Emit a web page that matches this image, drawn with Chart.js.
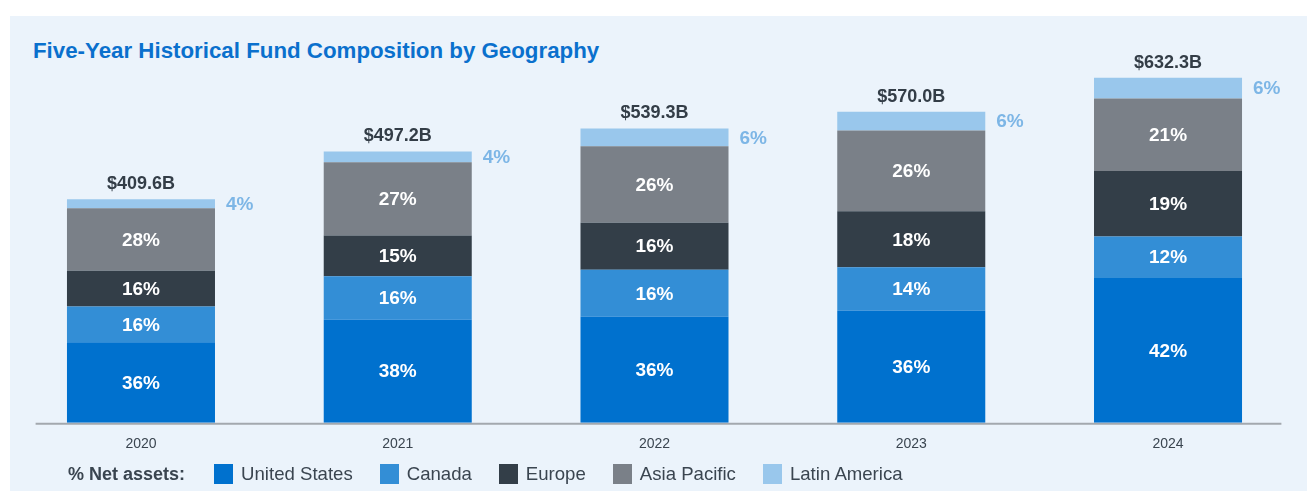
<!DOCTYPE html>
<html lang="en">
<head>
    <meta charset="UTF-8">
    <title>Five-Year Historical Fund Composition by Geography</title>
    <style>
        body { margin: 0; background: #ffffff; font-family: "Liberation Sans", Arial, sans-serif; }
        #panel { position: absolute; left: 10px; top: 16px; width: 1297px; height: 475px; background: #ebf3fb; }
        #title { position: absolute; left: 23px; top: 22px; margin: 0; font-size: 22.3px; font-weight: bold; color: #0a70cd; }
        #chartBox { position: absolute; left: 0; top: 0; width: 1307px; height: 491px; }
        #legend { position: absolute; left: 68px; top: 463px; display: flex; align-items: center; font-size: 18.6px; color: #3a4550; }
        #legend .lead { font-weight: bold; font-size: 18px; margin-right: 29px; }
        #legend .item { display: flex; align-items: center; margin-right: 27px; }
        #legend .box { width: 19px; height: 20px; margin-right: 8px; }
    </style>
</head>
<body>
    <div id="panel">
        <h3 id="title">Five-Year Historical Fund Composition by Geography</h3>
    </div>
    <div id="chartBox"><canvas id="myChart"></canvas></div>
    <div id="legend"></div>

    <script src="https://cdn.jsdelivr.net/npm/chart.js"></script>
    <script>
        // data
        const years = ["2020", "2021", "2022", "2023", "2024"];
        const totals = [409.6, 497.2, 539.3, 570.0, 632.3];   // $B net assets
        const unitedStates = [36, 38, 36, 36, 42];            // % of net assets
        const canada = [16, 16, 16, 14, 12];
        const europe = [16, 15, 16, 18, 19];
        const asiaPacific = [28, 27, 26, 26, 21];
        const latinAmerica = [4, 4, 6, 6, 6];

        const regions = [
            { label: "United States", pct: unitedStates, color: "#0071ce" },
            { label: "Canada", pct: canada, color: "#338ed6" },
            { label: "Europe", pct: europe, color: "#333e48" },
            { label: "Asia Pacific", pct: asiaPacific, color: "#7a8088" },
            { label: "Latin America", pct: latinAmerica, color: "#99c7ec" }
        ];

        // html legend
        const legendDiv = document.getElementById("legend");
        legendDiv.innerHTML = '<span class="lead">% Net assets:</span>' +
            regions.map(r => '<span class="item"><span class="box" style="background:' + r.color + '"></span>' + r.label + '</span>').join("");

        // labels on / beside / above the bars
        const barLabels = {
            id: "barLabels",
            afterDatasetsDraw(chart) {
                const ctx = chart.ctx;
                const last = chart.data.datasets.length - 1;
                ctx.save();
                chart.data.datasets.forEach((ds, i) => {
                    const meta = chart.getDatasetMeta(i);
                    meta.data.forEach((bar, j) => {
                        const midY = (bar.y + bar.base) / 2;
                        const txt = regions[i].pct[j] + "%";
                        ctx.font = "bold 19px 'Liberation Sans', Arial, sans-serif";
                        ctx.textBaseline = "middle";
                        if (i < last) {
                            ctx.fillStyle = "#ffffff";
                            ctx.textAlign = "center";
                            ctx.fillText(txt, bar.x, midY + 1);
                        } else {
                            ctx.fillStyle = "#7db6e6";
                            ctx.textAlign = "left";
                            ctx.fillText(txt, bar.x + bar.width / 2 + 11, midY + 1);
                            // total on top
                            ctx.font = "bold 18px 'Liberation Sans', Arial, sans-serif";
                            ctx.fillStyle = "#333d47";
                            ctx.textAlign = "center";
                            ctx.textBaseline = "alphabetic";
                            ctx.fillText("$" + totals[j].toFixed(1) + "B", bar.x, bar.y - 10);
                        }
                    });
                });
                ctx.restore();
            }
        };

        // baseline under the bars
        const baseLine = {
            id: "baseLine",
            beforeDatasetsDraw(chart) {
                const a = chart.chartArea;
                const ctx = chart.ctx;
                ctx.save();
                ctx.strokeStyle = "#a3a8ae";
                ctx.lineWidth = 2;
                ctx.beginPath();
                ctx.moveTo(a.left + 23, a.bottom + 1);
                ctx.lineTo(a.right - 15, a.bottom + 1);
                ctx.stroke();
                ctx.restore();
            }
        };

        const ctx = document.getElementById("myChart");
        new Chart(ctx, {
            type: "bar",
            data: {
                labels: years,
                datasets: regions.map(r => ({
                    label: r.label,
                    data: r.pct.map((p, j) => p * totals[j] / 100),
                    backgroundColor: r.color,
                    borderWidth: 0,
                    barPercentage: 1,
                    categoryPercentage: 0.5765
                }))
            },
            options: {
                responsive: true,
                maintainAspectRatio: false,
                animation: false,
                layout: { padding: { left: 12.6, right: 10.6, top: 40.8, bottom: 25.4 } },
                plugins: {
                    legend: { display: false },
                    tooltip: { enabled: false }
                },
                scales: {
                    x: {
                        stacked: true,
                        grid: { display: false, drawTicks: false },
                        border: { display: false },
                        ticks: {
                            padding: 13,
                            color: "#3a4550",
                            font: { family: "'Liberation Sans', Arial, sans-serif", size: 14 }
                        }
                    },
                    y: {
                        stacked: true,
                        display: false,
                        min: 0,
                        max: 700
                    }
                }
            },
            plugins: [baseLine, barLabels]
        });
    </script>
</body>
</html>
